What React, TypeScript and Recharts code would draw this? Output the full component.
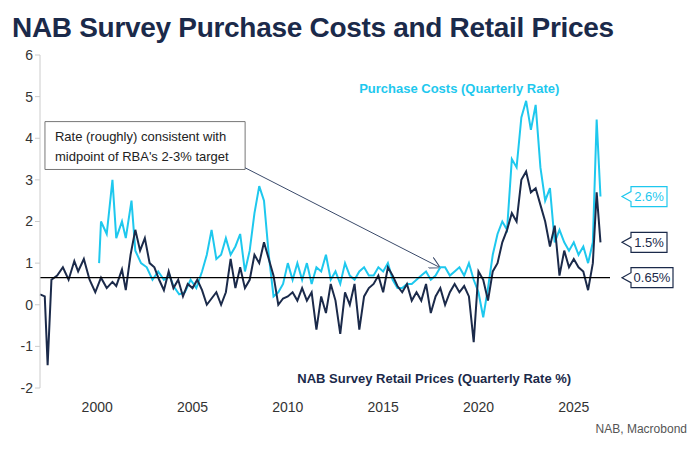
import React from "react";
import { LineChart, Line, XAxis, YAxis, ReferenceLine, ReferenceArea, ReferenceDot } from "recharts";

const retailX = [1997.0,1997.25,1997.4,1997.6,1997.9,1998.2,1998.5,1998.8,1999.0,1999.3,1999.6,1999.9,2000.2,2000.5,2000.8,2001.0,2001.3,2001.5,2001.75,2002.0,2002.25,2002.5,2002.75,2003.0,2003.25,2003.5,2003.75,2004.0,2004.25,2004.5,2004.75,2005.0,2005.25,2005.5,2005.75,2006.0,2006.25,2006.5,2006.75,2007.0,2007.25,2007.5,2007.75,2008.0,2008.25,2008.5,2008.75,2009.0,2009.25,2009.5,2009.75,2010.0,2010.25,2010.5,2010.75,2011.0,2011.25,2011.5,2011.75,2012.0,2012.25,2012.5,2012.75,2013.0,2013.25,2013.5,2013.75,2014.0,2014.25,2014.5,2014.75,2015.0,2015.25,2015.5,2015.75,2016.0,2016.25,2016.5,2016.75,2017.0,2017.25,2017.5,2017.75,2018.0,2018.25,2018.5,2018.75,2019.0,2019.25,2019.5,2019.75,2020.0,2020.25,2020.5,2020.75,2021.0,2021.25,2021.5,2021.75,2022.0,2022.25,2022.5,2022.75,2023.0,2023.25,2023.5,2023.75,2024.0,2024.25,2024.5,2024.75,2025.0,2025.25,2025.5,2025.75,2026.0,2026.2,2026.4];
const retailY = [0.25,0.2,-1.45,0.6,0.7,0.9,0.6,1.05,0.8,1.1,0.6,0.3,0.65,0.4,0.55,0.45,0.85,0.35,1.2,1.8,1.3,1.6,1.0,0.9,0.6,0.35,0.8,0.4,0.6,0.2,0.5,0.4,0.6,0.35,0.0,0.15,0.3,0.0,0.3,1.1,0.4,0.9,0.4,0.6,1.2,1.0,1.5,1.1,0.7,0.0,0.15,0.2,0.3,0.1,0.4,0.1,0.3,-0.6,0.2,-0.2,0.5,0.1,-0.7,0.3,0.0,0.5,-0.6,0.2,0.4,0.5,0.7,0.3,0.9,0.7,0.45,0.3,0.5,0.1,0.3,0.1,0.5,-0.2,0.2,0.4,0.0,0.3,0.5,0.3,0.45,0.2,-0.9,0.8,0.6,0.1,0.8,1.0,1.5,1.8,2.2,2.0,3.0,3.2,2.7,2.8,2.4,2.0,1.4,1.9,0.7,1.3,0.9,1.1,0.9,0.8,0.35,1.0,2.7,1.5];

const purchX = [2000.1,2000.2,2000.5,2000.8,2001.0,2001.3,2001.5,2001.8,2002.0,2002.3,2002.6,2002.9,2003.2,2003.5,2003.8,2004.0,2004.3,2004.6,2004.9,2005.2,2005.5,2005.75,2006.0,2006.25,2006.5,2006.75,2007.0,2007.25,2007.5,2007.75,2008.0,2008.25,2008.5,2008.75,2009.0,2009.25,2009.5,2009.75,2010.0,2010.25,2010.5,2010.75,2011.0,2011.25,2011.5,2011.75,2012.0,2012.25,2012.5,2012.75,2013.0,2013.25,2013.5,2013.75,2014.0,2014.25,2014.5,2014.75,2015.0,2015.25,2015.5,2015.75,2016.0,2016.25,2016.5,2016.75,2017.0,2017.25,2017.5,2017.75,2018.0,2018.25,2018.5,2018.75,2019.0,2019.25,2019.5,2019.75,2020.0,2020.25,2020.5,2020.75,2021.0,2021.25,2021.5,2021.75,2022.0,2022.25,2022.5,2022.75,2023.0,2023.25,2023.5,2023.75,2024.0,2024.25,2024.5,2024.75,2025.0,2025.25,2025.5,2025.75,2026.0,2026.2,2026.4];
const purchY = [1.0,2.0,1.7,3.0,1.6,2.0,1.6,2.5,1.3,1.0,0.9,0.6,0.8,0.6,0.7,0.45,0.25,0.3,0.6,0.4,0.8,1.2,1.8,1.1,1.2,1.6,1.2,1.4,1.7,0.8,1.3,2.2,2.85,2.5,1.2,0.2,0.3,0.5,1.0,0.6,1.0,0.6,1.0,0.5,0.9,0.8,1.2,0.6,0.8,0.5,1.0,0.7,0.6,0.8,0.9,0.7,0.7,0.9,0.8,1.0,0.6,0.4,0.4,0.5,0.5,0.6,0.7,0.8,0.6,0.7,0.9,0.9,0.7,0.8,0.9,0.7,1.0,0.6,0.3,-0.3,0.4,1.2,1.7,2.0,1.8,3.5,3.3,4.5,4.9,4.2,4.8,3.3,2.5,2.8,1.5,1.8,1.5,1.3,1.5,1.2,1.4,1.0,1.5,4.45,2.6];

const yTicks = [-2, -1, 0, 1, 2, 3, 4, 5, 6];
const xTicks = [2000, 2005, 2010, 2015, 2020, 2025];
const target = 0.65;
const lastPurch = 2.6;
const lastRetail = 1.5;

const CYAN = "#1EC8EE";
const NAVY = "#1B2A4A";

type Row = { x: number; retail?: number; purch?: number };
const map = new Map<number, Row>();
retailX.forEach((x, i) => { const r = map.get(x) || { x }; r.retail = retailY[i]; map.set(x, r); });
purchX.forEach((x, i) => { const r = map.get(x) || { x }; r.purch = purchY[i]; map.set(x, r); });
const data = Array.from(map.values()).sort((a, b) => a.x - b.x);

const tag = (text: string, color: string, w: number) => (props: any) => {
  const { cx, cy } = props;
  const x0 = cx + 12;
  const h = 20;
  const pts = `${x0},${cy} ${x0 + 9},${cy - 5} ${x0 + 9},${cy - h / 2} ${x0 + 9 + w},${cy - h / 2} ${x0 + 9 + w},${cy + h / 2} ${x0 + 9},${cy + h / 2} ${x0 + 9},${cy + 5}`;
  return (
    <g>
      <polygon points={pts} fill="#fff" stroke={color} strokeWidth={1.2} />
      <text x={x0 + 9 + w / 2} y={cy + 4.5} textAnchor="middle" fontSize={13} fill={color} fontFamily="Liberation Sans, Arial">{text}</text>
    </g>
  );
};

const BoxLabel = (props: any) => {
  const { viewBox } = props;
  const { x, y } = viewBox;
  return (
    <g fontFamily="Liberation Sans, Arial" fontSize={13} fill="#222">
      <text x={x + 10} y={y + 19}>Rate (roughly) consistent with</text>
      <text x={x + 10} y={y + 39}>midpoint of RBA's 2-3% target</text>
    </g>
  );
};

export default function App() {
  return (
    <div style={{ position: "absolute", left: 0, top: 0, width: 691, height: 461, background: "#fff", fontFamily: "Liberation Sans, Arial" }}>
      <div style={{ position: "absolute", left: 12, top: 12, fontSize: 28, fontWeight: "bold", color: NAVY, letterSpacing: -0.3 }}>
        NAB Survey Purchase Costs and Retail Prices
      </div>
      <div style={{ position: "absolute", right: 4, top: 422, fontSize: 12, color: "#555" }}>NAB, Macrobond</div>
      <LineChart width={691} height={461} data={data} margin={{ top: 55, right: 81, left: 0, bottom: 43 }}>
        <defs>
          <marker id="arr" markerWidth="12" markerHeight="12" refX="11" refY="6" orient="auto" markerUnits="userSpaceOnUse">
            <path d="M0,0 L11,6 L0,12" fill="none" stroke="#3A4A6A" strokeWidth={1} />
          </marker>
        </defs>
        <XAxis type="number" dataKey="x" domain={[1997, 2026.9]} ticks={xTicks} axisLine={false} tickLine={false}
          height={30} tick={{ fontSize: 14, fill: "#333", fontFamily: "Liberation Sans, Arial" }} tickMargin={8} />
        <YAxis type="number" domain={[-2, 6]} ticks={yTicks} width={40} axisLine={{ stroke: "#ccc" }} tickLine={{ stroke: "#ccc" }} tickSize={5}
          tick={{ fontSize: 14, fill: "#333", fontFamily: "Liberation Sans, Arial" }} />
        <ReferenceArea x1={1997.26} x2={2007.76} y1={3.25} y2={4.4} fill="#fff" fillOpacity={1} stroke="#777" strokeWidth={1} label={<BoxLabel />} />
        <ReferenceLine segment={[{ x: 2007.76, y: 3.29 }, { x: 2018.0, y: 0.89 }]} stroke="#3A4A6A" strokeWidth={1} markerEnd="url(#arr)" />
        <Line dataKey="purch" stroke={CYAN} strokeWidth={2} dot={false} isAnimationActive={false} connectNulls />
        <Line dataKey="retail" stroke={NAVY} strokeWidth={2} dot={false} isAnimationActive={false} connectNulls />
        <ReferenceLine y={target} stroke="#000" strokeWidth={1.2} />
        <ReferenceDot x={2026.9} y={lastPurch} r={0} ifOverflow="visible" shape={tag("2.6%", CYAN, 36)} />
        <ReferenceDot x={2026.9} y={lastRetail} r={0} ifOverflow="visible" shape={tag("1.5%", NAVY, 36)} />
        <ReferenceDot x={2026.9} y={target} r={0} ifOverflow="visible" shape={tag("0.65%", NAVY, 42)} />
        <ReferenceDot x={2016.0} y={5.2} r={0} ifOverflow="visible"
          shape={(p: any) => <text x={p.cx + 57} y={p.cy + 5} textAnchor="middle" fontSize={13} fontWeight="bold" fill={CYAN} fontFamily="Liberation Sans, Arial">Purchase Costs (Quarterly Rate)</text>} />
        <ReferenceDot x={2016.0} y={-1.75} r={0} ifOverflow="visible"
          shape={(p: any) => <text x={p.cx + 32} y={p.cy + 5} textAnchor="middle" fontSize={13} fontWeight="bold" fill={NAVY} fontFamily="Liberation Sans, Arial">NAB Survey Retail Prices (Quarterly Rate %)</text>} />
      </LineChart>
    </div>
  );
}
